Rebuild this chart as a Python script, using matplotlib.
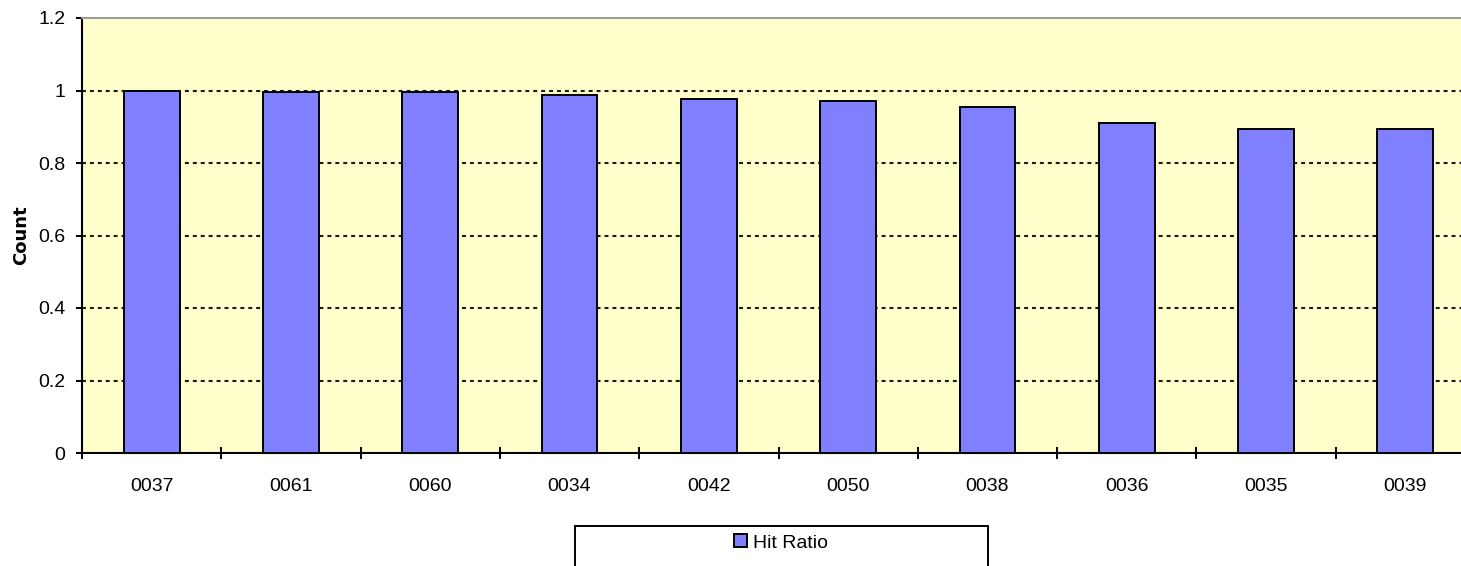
import matplotlib.pyplot as plt
from matplotlib.patches import Rectangle

plt.rcParams['font.family'] = ['Liberation Sans', 'DejaVu Sans']

# Hit ratio per store, sorted high to low
stores = ['0037', '0061', '0060', '0034', '0042', '0050', '0038', '0036', '0035', '0039']
hit_ratio = [1.000, 0.995, 0.995, 0.988, 0.977, 0.971, 0.954, 0.911, 0.894, 0.894]
y_ticks = [0, 0.2, 0.4, 0.6, 0.8, 1.0, 1.2]
y_labels = ['0', '0.2', '0.4', '0.6', '0.8', '1', '1.2']

W, H = 1461, 566
fig = plt.figure(figsize=(W / 100, H / 100), dpi=100)
ax = fig.add_axes([82 / W, 1 - 453 / H, 1393 / W, 435 / H])
ax.set_facecolor('#FFFFCC')

x = list(range(len(stores)))
ax.bar(x, hit_ratio, width=0.4, color='#8080FF', edgecolor='black', linewidth=1.4,
       label='Hit Ratio', zorder=3)

ax.set_xlim(-0.5, len(stores) - 0.5)
ax.set_ylim(0, 1.2)
ax.set_yticks(y_ticks)
ax.set_yticklabels(y_labels)

# dashed gridlines at every step except the top border
for yv in y_ticks[1:-1]:
    ax.axhline(yv, color='#1a1a1a', linewidth=1.5, linestyle=(0, (1.9, 1.9)), zorder=2)

ax.set_xticks(x)
ax.set_xticklabels(stores)
ax.set_xticks([i - 0.5 for i in range(len(stores) + 1)], minor=True)
ax.tick_params(axis='x', which='major', length=0, pad=18, labelsize=14)
ax.tick_params(axis='x', which='minor', direction='inout', length=9, width=1.4)
ax.tick_params(axis='y', direction='out', length=4, width=1.4, pad=8, labelsize=14)

ax.spines['left'].set_linewidth(1.5)
ax.spines['bottom'].set_linewidth(1.5)
ax.spines['top'].set_color('#999999')
ax.spines['top'].set_linewidth(1.4)
ax.spines['right'].set_visible(False)

ax.set_ylabel('Count', fontsize=13, fontweight='bold', family='DejaVu Sans', labelpad=6)

# legend frame runs past the bottom edge of the figure
fig.patches.append(Rectangle((575 / W, -0.05), 413 / W, 0.05 + (H - 526) / H,
                             transform=fig.transFigure, facecolor='white',
                             edgecolor='black', linewidth=1.4, zorder=1))
fig.legend(loc='center', bbox_to_anchor=(781 / W, 1 - 543 / H), frameon=False,
           fontsize=14, handlelength=0.65, handleheight=0.65, handletextpad=0.3,
           borderpad=0)

fig.savefig('out.png', dpi=100)
